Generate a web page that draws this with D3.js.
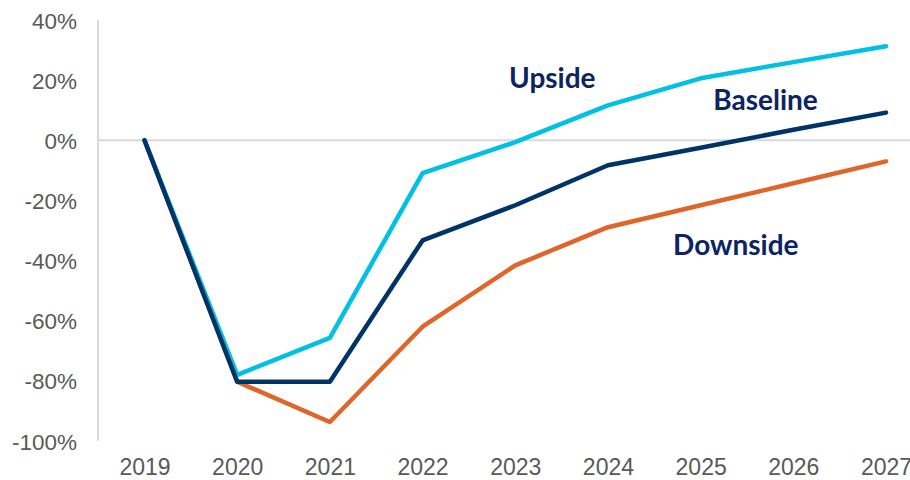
<!DOCTYPE html>
<html><head><meta charset="utf-8">
<script src="https://cdn.jsdelivr.net/npm/d3@7"></script>
<style>body{margin:0;background:#fff}svg{display:block}</style>
</head><body><svg id="c" width="910" height="480"></svg>
<script>
const years = ["2019","2020","2021","2022","2023","2024","2025","2026","2027"];
const upside   = [0, -78, -65.7, -10.9, -0.6, 11.6, 20.6, 26.0, 31.3];
const baseline = [0, -80.3, -80.3, -33.3, -21.6, -8.3, -2.5, 3.5, 9.2];
const downside = [0, -80.3, -93.7, -62.0, -41.6, -28.9, -21.6, -14.3, -7.0];
const yTicks = [40, 20, 0, -20, -40, -60, -80, -100];
const seriesNames = ["Downside", "Upside", "Baseline"];
const seriesColors = ["#e0652b", "#00c0e3", "#003466"];
const labelPos = [ // [fractional year index, value] for each label
  {name:"Upside", i:4.4, v:17.4},
  {name:"Baseline", i:6.7, v:10.2},
  {name:"Downside", i:6.38, v:-38.0}
];

const svg = d3.select("#c");
const x = d3.scaleLinear().domain([0, years.length-1]).range([144.5, 886]);
const y = d3.scaleLinear().domain([-100, 40]).range([441, 20]);

// y axis line
svg.append("line").attr("x1",98).attr("x2",98).attr("y1",y(40)).attr("y2",y(-100))
  .attr("stroke","#d9d9d9").attr("stroke-width",2);
// zero gridline
svg.append("line").attr("x1",98).attr("x2",910).attr("y1",y(0)).attr("y2",y(0))
  .attr("stroke","#d9d9d9").attr("stroke-width",2);

// y tick labels
const yAxis = d3.axisLeft(y).tickValues(yTicks).tickFormat(d => d + "%").tickSize(0).tickPadding(0);
const ga = svg.append("g").attr("transform","translate(77,0)").call(yAxis);
ga.select(".domain").remove();
ga.selectAll("text").attr("font-family","Liberation Sans, Arial, sans-serif")
  .attr("font-size","22.5px").attr("fill","#595959").attr("dy","0.36em");

// x tick labels
const xAxis = d3.axisBottom(x).tickValues(d3.range(years.length)).tickFormat(i => years[i]).tickSize(0).tickPadding(0);
const gx = svg.append("g").attr("transform","translate(0,475)").call(xAxis);
gx.select(".domain").remove();
gx.selectAll("text").attr("font-family","Liberation Sans, Arial, sans-serif")
  .attr("font-size","23px").attr("fill","#595959").attr("dy","0");

// lines
const line = d3.line().x((d,i)=>x(i)).y(d=>y(d));
const data = [downside, upside, baseline];
data.forEach((s, k) => {
  svg.append("path").datum(s).attr("d", line).attr("fill","none")
    .attr("stroke", seriesColors[k]).attr("stroke-width",4.5)
    .attr("stroke-linecap","round").attr("stroke-linejoin","round");
});

// labels
svg.selectAll("text.lab").data(labelPos).enter().append("text").attr("class","lab")
  .attr("x", d=>x(d.i)).attr("y", d=>y(d.v)).attr("text-anchor","middle")
  .attr("font-family","Lato, sans-serif").attr("font-weight","bold").attr("font-size","28px")
  .attr("fill","#0c2461").text(d=>d.name);
</script></body></html>
